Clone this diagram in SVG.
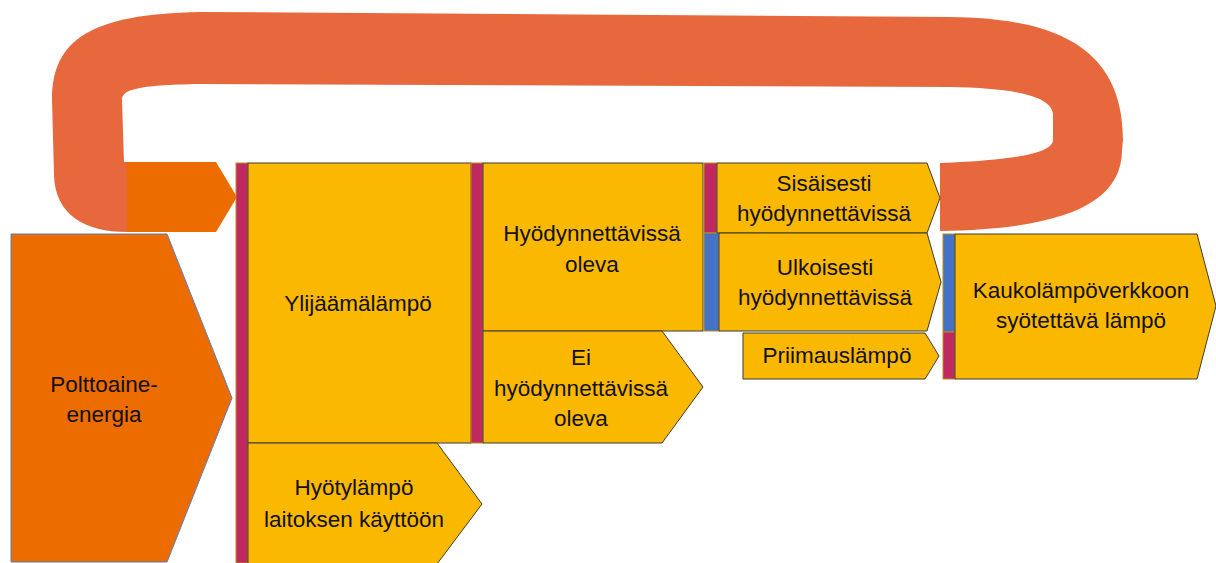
<svg xmlns="http://www.w3.org/2000/svg" width="1216" height="563" viewBox="0 0 1216 563">
<style>
.y{fill:#FBB800;stroke:#3b3b3b;stroke-width:1}
.m{fill:#C0295F;stroke:#B8901A;stroke-width:1}
.b{fill:#4472C4;stroke:#B8901A;stroke-width:1}
.o{fill:#EC6C00}
.t{font-family:"Liberation Sans",Arial,sans-serif;font-size:22.5px;fill:#111;text-anchor:middle}
</style>
<rect width="1216" height="563" fill="#fff"/>
<g id="connectors">
<path id="loop" fill="#E8683D" d="M127,232 C85,232 55,215 54,175 L52,100 C52,40 90,14 200,12 L950,17 C1060,18 1123,50 1123,140 L1122,150 C1122,205 1060,229 940,231 L940,163 C1030,160 1053,150 1053,140 L1053,115 C1053,95 1010,88 950,87 L200,84 C135,85 122,90 122,100 L124,162 L127,162 Z"/>
<polygon id="loop-arrow" class="o" points="127,162 216,162 237,197 216,232 127,232"/>
</g>
<g id="polttoaine">
<polygon class="o" stroke="#5B7DB8" stroke-width="1" points="11,234 167,234 232,398 167,562 11,562"/>
<text class="t" x="104" y="392">Polttoaine-</text>
<text class="t" x="104" y="422">energia</text>
</g>
<g id="bar1"><rect class="m" x="236" y="163" width="12" height="400"/></g>
<g id="ylijaama">
<rect class="y" x="248" y="163" width="223" height="280"/>
<text class="t" x="358" y="311">Ylijäämälämpö</text>
</g>
<g id="hyotylampo">
<polygon class="y" points="248,443 437,443 482,504 437,564 248,564"/>
<text class="t" x="354" y="495">Hyötylämpö</text>
<text class="t" x="354" y="527">laitoksen käyttöön</text>
</g>
<g id="bar2"><rect class="m" x="471" y="163" width="12" height="280"/></g>
<g id="hyodynnettavissa">
<rect class="y" x="483" y="163" width="220" height="168"/>
<text class="t" x="592" y="241">Hyödynnettävissä</text>
<text class="t" x="592" y="272">oleva</text>
</g>
<g id="ei-hyodynnettavissa">
<polygon class="y" points="483,331 662,331 703,387 662,443 483,443"/>
<text class="t" x="581" y="365">Ei</text>
<text class="t" x="581" y="396">hyödynnettävissä</text>
<text class="t" x="581" y="426">oleva</text>
</g>
<g id="bar3"><rect class="m" x="704" y="163" width="13" height="70"/></g>
<g id="bar4"><rect class="b" x="704" y="233" width="15" height="98"/></g>
<g id="sisaisesti">
<polygon class="y" points="717,163 927,163 940,198 927,233 717,233"/>
<text class="t" x="824" y="191">Sisäisesti</text>
<text class="t" x="824" y="221">hyödynnettävissä</text>
</g>
<g id="ulkoisesti">
<polygon class="y" points="719,233 927,233 941,282 927,331 719,331"/>
<text class="t" x="825" y="275">Ulkoisesti</text>
<text class="t" x="825" y="305">hyödynnettävissä</text>
</g>
<g id="priimaus">
<polygon class="y" points="743,333 925,333 939,356 925,379 743,379"/>
<text class="t" x="837" y="363">Priimauslämpö</text>
</g>
<g id="bar5"><rect class="b" x="943" y="234" width="12" height="98"/></g>
<g id="bar6"><rect class="m" x="943" y="332" width="12" height="47"/></g>
<g id="kaukolampo">
<polygon class="y" points="955,234 1197,234 1216,306 1197,379 955,379"/>
<text class="t" x="1081" y="298">Kaukolämpöverkkoon</text>
<text class="t" x="1081" y="328">syötettävä lämpö</text>
</g>
</svg>
